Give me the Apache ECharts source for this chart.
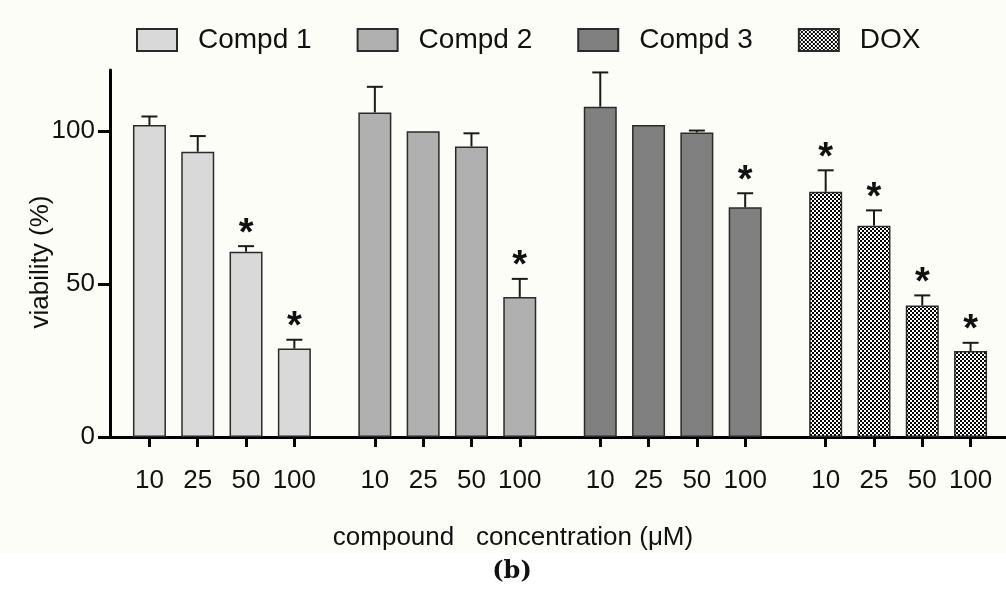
<!DOCTYPE html>
<html>
<head>
<meta charset="utf-8">
<script src="https://cdn.jsdelivr.net/npm/echarts@6/dist/echarts.min.js"></script>
<style>
  html, body { margin: 0; padding: 0; background: #fff; }
  #chart { width: 1006px; height: 590px; }
</style>
</head>
<body>
<div id="chart"></div>
<script>
/* DATOS DEL GRAFICO */
var concLabels = ['10', '25', '50', '100'];
var seriesNames = ['Compd 1', 'Compd 2', 'Compd 3', 'DOX'];
// posicion de cada barra sobre el eje x (unidades del eje)
var xPos1 = [0, 3, 6, 9];
var xPos2 = [14, 17, 20, 23];
var xPos3 = [28, 31, 34, 37];
var xPosDox = [42, 45, 48, 51];

var compd1 = [102.0, 93.3, 60.6, 28.9];
var compd2 = [106.1, 100.0, 95.0, 45.8];
var compd3 = [108.0, 102.0, 99.6, 75.1];
var dox = [80.2, 69.1, 43.0, 28.1];

var err1 = [2.8, 5.1, 1.8, 2.9];
var err2 = [8.4, 0, 4.3, 5.9];
var err3 = [11.2, 0, 0.6, 4.6];
var errDox = [7.0, 5.0, 3.3, 2.7];

// 1 = diferencia significativa (*)
var sig1 = [0, 0, 1, 1];
var sig2 = [0, 0, 0, 1];
var sig3 = [0, 0, 0, 1];
var sigDox = [1, 1, 1, 1];

var yTicks = [0, 50, 100];

/* PATRON DE CUADROS PARA DOX */
function crearPatron() {
  var c = document.createElement('canvas');
  c.width = 4; c.height = 4;
  var ctx = c.getContext('2d');
  ctx.fillStyle = '#ffffff';
  ctx.fillRect(0, 0, 4, 4);
  ctx.fillStyle = '#000000';
  ctx.fillRect(0, 0, 2, 2);
  ctx.fillRect(2, 2, 2, 2);
  return c;
}

var allPos = xPos1.concat(xPos2, xPos3, xPosDox);
var grupos = [
  { pos: xPos1, val: compd1, err: err1, sig: sig1, color: '#d9d9d9' },
  { pos: xPos2, val: compd2, err: err2, sig: sig2, color: '#b0b0b0' },
  { pos: xPos3, val: compd3, err: err3, sig: sig3, color: '#808080' },
  { pos: xPosDox, val: dox, err: errDox, sig: sigDox, color: { image: crearPatron(), repeat: 'repeat' } }
];

function etiquetaX(v) {
  var i = allPos.indexOf(v);
  return i < 0 ? '' : concLabels[i % 4];
}

var series = [];
var errData = [];
grupos.forEach(function (g, k) {
  series.push({
    name: seriesNames[k],
    type: 'bar',
    barWidth: 33,
    barGap: '-100%',
    itemStyle: { color: g.color, borderColor: '#2a2a2a', borderWidth: 1.5 },
    data: g.pos.map(function (x, i) { return [x, g.val[i]]; })
  });
  g.pos.forEach(function (x, i) {
    errData.push([x, g.val[i], g.err[i], g.sig[i]]);
  });
});

// barras de error y asteriscos
series.push({
  type: 'custom',
  z: 5,
  silent: true,
  data: errData,
  renderItem: function (params, api) {
    var x = api.value(0), v = api.value(1), e = api.value(2), s = api.value(3);
    var base = api.coord([x, v]);
    var top = api.coord([x, v + e]);
    var kids = [];
    var st = { stroke: '#1a1a1a', lineWidth: 2 };
    if (e > 0) {
      kids.push({ type: 'line', shape: { x1: base[0], y1: base[1], x2: top[0], y2: top[1] }, style: st });
      kids.push({ type: 'line', shape: { x1: top[0] - 8, y1: top[1], x2: top[0] + 8, y2: top[1] }, style: st });
    }
    if (s) {
      kids.push({
        type: 'text',
        style: {
          text: '*', x: top[0], y: top[1] - 12,
          align: 'center', verticalAlign: 'middle',
          font: 'bold 38px "Liberation Sans", Arial, sans-serif', fill: '#111'
        }
      });
    }
    return { type: 'group', children: kids };
  }
});

var chart = echarts.init(document.getElementById('chart'));
chart.setOption({
  backgroundColor: '#fdfdf8',
  animation: false,
  textStyle: { fontFamily: '"Liberation Sans", Arial, sans-serif' },
  legend: {
    data: seriesNames,
    left: 131,
    top: 21,
    itemWidth: 40,
    itemHeight: 22,
    itemGap: 45,
    icon: 'rect',
    textStyle: { fontSize: 28, color: '#111', padding: [0, 0, 0, 16] }
  },
  grid: { left: 110, right: 0, top: 70, bottom: 153 },
  xAxis: {
    type: 'value',
    min: -2.45,
    max: 53.2,
    splitLine: { show: false },
    axisLine: { lineStyle: { color: '#000', width: 3 } },
    axisTick: { customValues: allPos, length: 10, lineStyle: { color: '#000', width: 3 } },
    axisLabel: {
      customValues: allPos, formatter: etiquetaX,
      fontSize: 26, color: '#111', margin: 31
    }
  },
  yAxis: {
    type: 'value',
    min: 0,
    max: 120,
    splitLine: { show: false },
    axisLine: { show: true, onZero: false, lineStyle: { color: '#000', width: 3 } },
    axisTick: { show: true, customValues: yTicks, length: 12, lineStyle: { color: '#000', width: 3 } },
    axisLabel: { customValues: yTicks, fontSize: 26, color: '#111', margin: 15 }
  },
  graphic: [
    { type: 'rect', left: 0, top: 553, shape: { width: 1006, height: 37 }, style: { fill: '#ffffff' }, z: -1 },
    {
      type: 'text', x: 41, y: 262, rotation: Math.PI / 2,
      style: { text: 'viability (%)', font: '26px "Liberation Sans", Arial, sans-serif', fill: '#111', align: 'center', verticalAlign: 'middle' }
    },
    {
      type: 'text', x: 513, y: 538,
      style: { text: 'compound   concentration (\u03bcM)', font: '26px "Liberation Sans", Arial, sans-serif', fill: '#111', align: 'center', verticalAlign: 'middle' }
    },
    {
      type: 'text', x: 512, y: 572,
      style: { text: '(b)', font: 'bold 24px "DejaVu Serif", "Liberation Serif", serif', fill: '#111', align: 'center', verticalAlign: 'middle' }
    }
  ],
  series: series
});
</script>
</body>
</html>
